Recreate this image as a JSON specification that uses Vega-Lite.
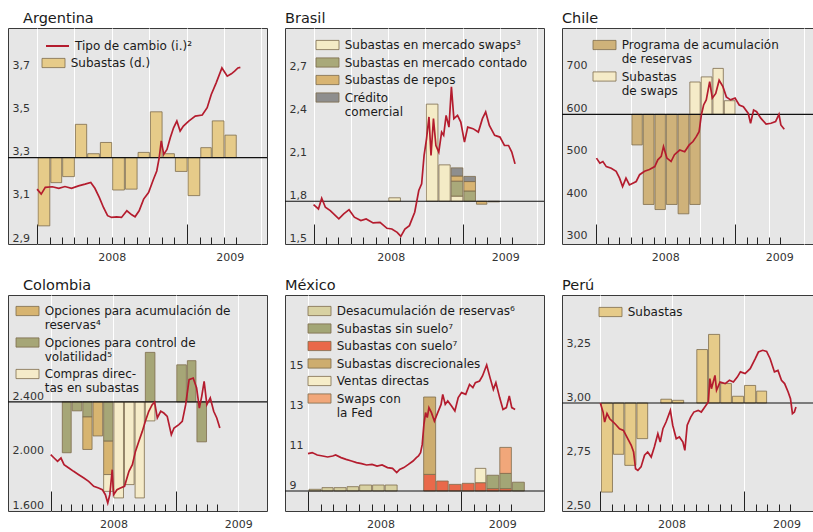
{
  "$schema": "https://vega.github.io/schema/vega-lite/v6.json",
  "background": "white",
  "padding": {"left": 6, "top": 10, "right": 0, "bottom": 0},
  "bounds": "flush",
  "columns": 3,
  "spacing": {"row": 51, "column": 18},
  "resolve": {"scale": {"color": "independent", "stroke": "independent"}, "legend": {"color": "independent", "stroke": "independent"}},
  "concat": [
        {
          "title": {"text": "Argentina", "dx": 15},
          "width": 259, "height": 216,
          "layer": [
            {"layer": [
              {
                "data": {"values": [
                  {"d":"2008-01-15","s":"Subastas (d.)","v":-1.58},
                  {"d":"2008-02-15","s":"Subastas (d.)","v":-0.58},
                  {"d":"2008-03-15","s":"Subastas (d.)","v":-0.44},
                  {"d":"2008-04-15","s":"Subastas (d.)","v":0.77},
                  {"d":"2008-05-15","s":"Subastas (d.)","v":0.09},
                  {"d":"2008-06-15","s":"Subastas (d.)","v":0.35},
                  {"d":"2008-07-15","s":"Subastas (d.)","v":-0.75},
                  {"d":"2008-08-15","s":"Subastas (d.)","v":-0.73},
                  {"d":"2008-09-15","s":"Subastas (d.)","v":0.12},
                  {"d":"2008-10-15","s":"Subastas (d.)","v":1.06},
                  {"d":"2008-11-15","s":"Subastas (d.)","v":0.09},
                  {"d":"2008-12-15","s":"Subastas (d.)","v":-0.32},
                  {"d":"2009-01-15","s":"Subastas (d.)","v":-0.88},
                  {"d":"2009-02-15","s":"Subastas (d.)","v":0.23},
                  {"d":"2009-03-15","s":"Subastas (d.)","v":0.85},
                  {"d":"2009-04-15","s":"Subastas (d.)","v":0.52}
                ]},
                "mark": {"type": "bar"},
                "encoding": {
                  "x": {"field":"d","type":"temporal","timeUnit":"yearmonth",
                        "scale":{"domain":[{"year":2007,"month":10,"date":22},{"year":2009,"month":7,"date":15}]},
                        "axis":{"orient":"bottom","values":[{"year":2008,"month":7,"date":1},{"year":2009,"month":4,"date":15}],"labelExpr":"timeFormat(datum.value, '%Y')","ticks":false,"grid":false,"labelPadding":7,"title":null}},
                  "y": {"field":"v","type":"quantitative","scale":{"domain":[-2,3],"nice":false,"zero":false},
                        "axis":{"orient":"right","values":[-2,-1,0,1,2],"format":"d","title":null}},
                  "color": {"field":"s","type":"nominal","scale":{"domain":["Subastas (d.)"],"range":["#e6cb89"]},
                            "legend":{"title":null,"legendX":39,"legendY":28.5}}
                }
              },
              {"data":{"values":[{}]},"mark":{"type":"rule","color":"#111","strokeWidth":1.2},
               "encoding":{"y":{"datum":0,"axis":null}}}
            ]},
            {
              "data": {"values": [
                {"d":"2008-01-01","r":3.154},{"d":"2008-01-11","r":3.131},{"d":"2008-01-21","r":3.162},{"d":"2008-02-07","r":3.165},
                {"d":"2008-02-23","r":3.158},{"d":"2008-03-09","r":3.166},{"d":"2008-03-25","r":3.158},{"d":"2008-04-11","r":3.169},
                {"d":"2008-04-27","r":3.177},{"d":"2008-05-11","r":3.185},{"d":"2008-05-21","r":3.158},{"d":"2008-06-01","r":3.115},
                {"d":"2008-06-11","r":3.069},{"d":"2008-06-21","r":3.031},{"d":"2008-07-01","r":3.023},{"d":"2008-07-13","r":3.026},
                {"d":"2008-07-25","r":3.023},{"d":"2008-08-07","r":3.054},{"d":"2008-08-19","r":3.035},{"d":"2008-08-27","r":3.026},
                {"d":"2008-09-06","r":3.054},{"d":"2008-09-17","r":3.108},{"d":"2008-09-29","r":3.138},{"d":"2008-10-11","r":3.2},
                {"d":"2008-10-19","r":3.238},{"d":"2008-10-25","r":3.3},{"d":"2008-10-30","r":3.377},{"d":"2008-11-05","r":3.315},
                {"d":"2008-11-13","r":3.338},{"d":"2008-11-21","r":3.392},{"d":"2008-11-29","r":3.438},{"d":"2008-12-07","r":3.469},
                {"d":"2008-12-15","r":3.423},{"d":"2008-12-23","r":3.446},{"d":"2009-01-05","r":3.469},{"d":"2009-01-21","r":3.492},
                {"d":"2009-02-07","r":3.497},{"d":"2009-02-19","r":3.531},{"d":"2009-03-01","r":3.592},{"d":"2009-03-13","r":3.646},
                {"d":"2009-03-27","r":3.715},{"d":"2009-04-09","r":3.677},{"d":"2009-04-19","r":3.688},{"d":"2009-04-27","r":3.7},
                {"d":"2009-05-05","r":3.715},{"d":"2009-05-11","r":3.718}
              ]},
              "mark": {"type":"line","strokeWidth":1.7},
              "encoding": {
                "x": {"field":"d","type":"temporal","axis":{"orient":"bottom","tickCount":{"interval":"month","step":1},"labels":false,"title":null,"grid":true,"tickColor":"#222",
                      "tickSize":{"condition":{"test":"month(datum.value)==0","value":-20},"value":-7},
                      "tickOpacity":{"condition":{"test":"datum.value < datetime(2008,0,1) || datum.value > datetime(2009,4,15)","value":0},"value":1},
                      "gridOpacity":{"condition":{"test":"month(datum.value)%3==0 && datum.value >= datetime(2008,0,1)","value":1},"value":0}}},
                "y": {"field":"r","type":"quantitative","scale":{"domain":[2.9,3.9],"nice":false,"zero":false},
                      "axis":{"orient":"left","values":[2.9,3.1,3.3,3.5,3.7],"labelExpr":"replace(format(datum.value,'.1f'),'.',',')","title":null}},
                "stroke": {"datum":"Tipo de cambio (i.)²","type":"nominal","scale":{"range":["#b41c2e"]},
                           "legend":{"title":null,"legendX":37,"legendY":5.5,"symbolType":"stroke","symbolSize":529,"symbolStrokeWidth":2,"labelOffset":5}}
              }
            }
          ],
          "resolve": {"scale":{"y":"independent"},"axis":{"x":"independent"}}
        },
        {
          "title": {"text": "Brasil"},
          "width": 259, "height": 216,
          "layer": [
            {"layer": [
              {
                "data": {"values": [
                  {"d":"2008-07-15","s":"Subastas en mercado swaps³","v":0.8,"k":1},
                  {"d":"2008-10-15","s":"Subastas en mercado swaps³","v":22.7,"k":1},
                  {"d":"2008-11-15","s":"Subastas en mercado swaps³","v":8.5,"k":1},
                  {"d":"2008-12-15","s":"Subastas en mercado swaps³","v":1.2,"k":1},
                  {"d":"2008-12-15","s":"Subastas en mercado contado","v":3.5,"k":2},
                  {"d":"2008-12-15","s":"Subastas de repos","v":1.2,"k":3},
                  {"d":"2008-12-15","s":"Crédito comercial","v":1.9,"k":4},
                  {"d":"2009-01-15","s":"Subastas en mercado contado","v":2.4,"k":2},
                  {"d":"2009-01-15","s":"Subastas de repos","v":2.2,"k":3},
                  {"d":"2009-01-15","s":"Crédito comercial","v":1.2,"k":4},
                  {"d":"2009-02-15","s":"Subastas de repos","v":-0.7,"k":3},
                  {"d":"2009-03-15","s":"Crédito comercial","v":-0.15,"k":4}
                ]},
                "mark": {"type": "bar"},
                "encoding": {
                  "x": {"field":"d","type":"temporal","timeUnit":"yearmonth",
                        "scale":{"domain":[{"year":2007,"month":10,"date":23},{"year":2009,"month":7,"date":19}]},
                        "axis":{"orient":"bottom","values":[{"year":2008,"month":7,"date":8},{"year":2009,"month":4,"date":15}],"labelExpr":"timeFormat(datum.value, '%Y')","ticks":false,"grid":false,"labelPadding":7,"title":null}},
                  "y": {"field":"v","type":"quantitative","scale":{"domain":[-10,40.5],"nice":false,"zero":false},
                        "axis":{"orient":"right","values":[-10,0,10,20,30],"format":"d","title":null}},
                  "color": {"field":"s","type":"nominal","scale":{"domain":["Subastas en mercado swaps³","Subastas en mercado contado","Subastas de repos","Crédito comercial"],"range":["#f4ebc6","#a9a97a","#d8b472","#8e8e8e"]},
                            "legend":{"title":null,"legendX":36,"legendY":10.5,"labelExpr":"datum.label == 'Crédito comercial' ? ['Crédito','comercial'] : datum.label"}},
                  "order": {"field":"k"}
                }
              },
              {"data":{"values":[{}]},"mark":{"type":"rule","color":"#111","strokeWidth":1.2},
               "encoding":{"y":{"datum":0,"axis":null}}}
            ]},
            {
              "data": {"values": [
                {"d":"2008-01-01","r":1.777},{"d":"2008-01-13","r":1.746},{"d":"2008-01-21","r":1.821},{"d":"2008-01-30","r":1.758},
                {"d":"2008-02-11","r":1.734},{"d":"2008-03-03","r":1.676},{"d":"2008-03-15","r":1.711},{"d":"2008-03-28","r":1.741},
                {"d":"2008-04-10","r":1.688},{"d":"2008-04-26","r":1.664},{"d":"2008-05-09","r":1.676},{"d":"2008-05-26","r":1.648},
                {"d":"2008-06-12","r":1.652},{"d":"2008-06-29","r":1.61},{"d":"2008-07-11","r":1.605},{"d":"2008-07-24","r":1.582},
                {"d":"2008-08-02","r":1.554},{"d":"2008-08-12","r":1.605},{"d":"2008-08-23","r":1.629},{"d":"2008-09-05","r":1.723},
                {"d":"2008-09-15","r":1.875},{"d":"2008-09-22","r":1.922},{"d":"2008-09-28","r":2.121},{"d":"2008-10-04","r":2.238},
                {"d":"2008-10-10","r":2.391},{"d":"2008-10-15","r":2.121},{"d":"2008-10-21","r":2.379},{"d":"2008-10-27","r":2.191},
                {"d":"2008-11-03","r":2.145},{"d":"2008-11-10","r":2.285},{"d":"2008-11-15","r":2.262},{"d":"2008-11-21","r":2.402},
                {"d":"2008-11-28","r":2.32},{"d":"2008-12-04","r":2.602},{"d":"2008-12-10","r":2.379},{"d":"2008-12-19","r":2.402},
                {"d":"2008-12-27","r":2.355},{"d":"2009-01-05","r":2.215},{"d":"2009-01-13","r":2.32},{"d":"2009-01-26","r":2.309},
                {"d":"2009-02-08","r":2.285},{"d":"2009-02-18","r":2.379},{"d":"2009-02-26","r":2.426},{"d":"2009-03-07","r":2.332},
                {"d":"2009-03-20","r":2.262},{"d":"2009-04-02","r":2.25},{"d":"2009-04-13","r":2.191},{"d":"2009-04-23","r":2.191},
                {"d":"2009-05-01","r":2.145},{"d":"2009-05-09","r":2.062}
              ]},
              "mark": {"type":"line","strokeWidth":1.7,"color":"#b41c2e"},
              "encoding": {
                "x": {"field":"d","type":"temporal","axis":{"orient":"bottom","tickCount":{"interval":"month","step":1},"labels":false,"title":null,"grid":true,"tickColor":"#222",
                      "tickSize":{"condition":{"test":"month(datum.value)==0","value":-20},"value":-7},
                      "tickOpacity":{"condition":{"test":"datum.value < datetime(2008,0,1) || datum.value > datetime(2009,4,15)","value":0},"value":1},
                      "gridOpacity":{"condition":{"test":"month(datum.value)%3==0 && datum.value >= datetime(2008,0,1)","value":1},"value":0}}},
                "y": {"field":"r","type":"quantitative","scale":{"domain":[1.5,3.015],"nice":false,"zero":false},
                      "axis":{"orient":"left","values":[1.5,1.8,2.1,2.4,2.7],"labelExpr":"replace(format(datum.value,'.1f'),'.',',')","title":null}}
              }
            }
          ],
          "resolve": {"scale":{"y":"independent"},"axis":{"x":"independent"}}
        },
        {
          "title": {"text": "Chile"},
          "width": 259, "height": 216,
          "layer": [
            {"layer": [
              {
                "data": {"values": [
                  {"d":"2008-04-15","s":"Programa de acumulación de reservas","v":-0.36,"k":1},
                  {"d":"2008-05-15","s":"Programa de acumulación de reservas","v":-1.06,"k":1},
                  {"d":"2008-06-15","s":"Programa de acumulación de reservas","v":-1.12,"k":1},
                  {"d":"2008-07-15","s":"Programa de acumulación de reservas","v":-1.06,"k":1},
                  {"d":"2008-08-15","s":"Programa de acumulación de reservas","v":-1.17,"k":1},
                  {"d":"2008-09-15","s":"Programa de acumulación de reservas","v":-1.06,"k":1},
                  {"d":"2008-09-15","s":"Subastas de swaps","v":0.38,"k":2},
                  {"d":"2008-10-15","s":"Subastas de swaps","v":0.44,"k":2},
                  {"d":"2008-11-15","s":"Subastas de swaps","v":0.54,"k":2},
                  {"d":"2008-12-15","s":"Subastas de swaps","v":0.16,"k":2}
                ]},
                "mark": {"type": "bar"},
                "encoding": {
                  "x": {"field":"d","type":"temporal","timeUnit":"yearmonth",
                        "scale":{"domain":[{"year":2007,"month":10,"date":2},{"year":2009,"month":8,"date":16}]},
                        "axis":{"orient":"bottom","values":[{"year":2008,"month":7,"date":1},{"year":2009,"month":4,"date":28}],"labelExpr":"timeFormat(datum.value, '%Y')","ticks":false,"grid":false,"labelPadding":7,"title":null}},
                  "y": {"field":"v","type":"quantitative","scale":{"domain":[-1.525,1.015],"nice":false,"zero":false},
                        "axis":{"orient":"right","values":[-1.5,-1,-0.5,0,0.5],"labelExpr":"replace(format(datum.value,'.1f'),'.',',')","title":null}},
                  "color": {"field":"s","type":"nominal","scale":{"domain":["Programa de acumulación de reservas","Subastas de swaps"],"range":["#cfb27a","#f5ebc8"]},
                            "legend":{"title":null,"legendX":36,"legendY":10.5,"labelExpr":"datum.label == 'Subastas de swaps' ? ['Subastas','de swaps'] : ['Programa de acumulación','de reservas']"}},
                  "order": {"field":"k"}
                }
              },
              {"data":{"values":[{}]},"mark":{"type":"rule","color":"#111","strokeWidth":1.2},
               "encoding":{"y":{"datum":0,"axis":null}}}
            ]},
            {
              "data": {"values": [
                {"d":"2008-01-01","r":497},{"d":"2008-01-10","r":485},{"d":"2008-01-18","r":489},{"d":"2008-01-27","r":477},
                {"d":"2008-02-09","r":473},{"d":"2008-02-22","r":466},{"d":"2008-03-02","r":450},{"d":"2008-03-10","r":430},
                {"d":"2008-03-19","r":450},{"d":"2008-03-28","r":434},{"d":"2008-04-06","r":438},{"d":"2008-04-15","r":442},
                {"d":"2008-04-24","r":458},{"d":"2008-05-07","r":466},{"d":"2008-05-20","r":470},{"d":"2008-06-03","r":477},
                {"d":"2008-06-11","r":493},{"d":"2008-06-20","r":501},{"d":"2008-06-26","r":524},{"d":"2008-07-05","r":497},
                {"d":"2008-07-16","r":489},{"d":"2008-07-25","r":505},{"d":"2008-08-08","r":516},{"d":"2008-08-21","r":512},
                {"d":"2008-09-02","r":528},{"d":"2008-09-12","r":536},{"d":"2008-09-21","r":548},{"d":"2008-09-28","r":559},
                {"d":"2008-10-04","r":598},{"d":"2008-10-10","r":622},{"d":"2008-10-17","r":634},{"d":"2008-10-26","r":677},
                {"d":"2008-11-02","r":638},{"d":"2008-11-11","r":649},{"d":"2008-11-20","r":680},{"d":"2008-11-30","r":665},
                {"d":"2008-12-09","r":641},{"d":"2008-12-20","r":634},{"d":"2009-01-01","r":638},{"d":"2009-01-12","r":622},
                {"d":"2009-01-23","r":618},{"d":"2009-02-05","r":602},{"d":"2009-02-11","r":579},{"d":"2009-02-19","r":610},
                {"d":"2009-02-27","r":606},{"d":"2009-03-10","r":591},{"d":"2009-03-24","r":577},{"d":"2009-04-06","r":579},
                {"d":"2009-04-18","r":583},{"d":"2009-04-27","r":600},{"d":"2009-05-02","r":575},{"d":"2009-05-11","r":565}
              ]},
              "mark": {"type":"line","strokeWidth":1.7,"color":"#b41c2e"},
              "encoding": {
                "x": {"field":"d","type":"temporal","axis":{"orient":"bottom","tickCount":{"interval":"month","step":1},"labels":false,"title":null,"grid":true,"tickColor":"#222",
                      "tickSize":{"condition":{"test":"month(datum.value)==0","value":-20},"value":-7},
                      "tickOpacity":{"condition":{"test":"datum.value < datetime(2008,0,1) || datum.value > datetime(2009,4,15)","value":0},"value":1},
                      "gridOpacity":{"condition":{"test":"month(datum.value)%3==0 && datum.value >= datetime(2008,0,1)","value":1},"value":0}}},
                "y": {"field":"r","type":"quantitative","scale":{"domain":[295,803],"nice":false,"zero":false},
                      "axis":{"orient":"left","values":[300,400,500,600,700],"format":"d","title":null}}
              }
            }
          ],
          "resolve": {"scale":{"y":"independent"},"axis":{"x":"independent"}}
        },
        {
          "title": {"text": "Colombia", "dx": 15},
          "width": 259, "height": 216,
          "layer": [
            {"layer": [
              {
                "data": {"values": [
                  {"d":"2008-02-15","s":"Opciones para control de volatilidad⁵","v":-0.233,"k":1},
                  {"d":"2008-03-15","s":"Opciones para control de volatilidad⁵","v":-0.041,"k":1},
                  {"d":"2008-04-15","s":"Opciones para control de volatilidad⁵","v":-0.069,"k":1},
                  {"d":"2008-04-15","s":"Opciones para acumulación de reservas⁴","v":-0.149,"k":2},
                  {"d":"2008-05-15","s":"Opciones para acumulación de reservas⁴","v":-0.156,"k":2},
                  {"d":"2008-06-15","s":"Opciones para control de volatilidad⁵","v":-0.18,"k":1},
                  {"d":"2008-06-15","s":"Opciones para acumulación de reservas⁴","v":-0.153,"k":2},
                  {"d":"2008-06-15","s":"Compras directas en subastas","v":-0.077,"k":3},
                  {"d":"2008-07-15","s":"Compras directas en subastas","v":-0.44,"k":3},
                  {"d":"2008-08-15","s":"Compras directas en subastas","v":-0.379,"k":3},
                  {"d":"2008-09-15","s":"Compras directas en subastas","v":-0.44,"k":3},
                  {"d":"2008-10-15","s":"Opciones para control de volatilidad⁵","v":0.227,"k":1},
                  {"d":"2008-10-15","s":"Compras directas en subastas","v":-0.087,"k":3},
                  {"d":"2009-01-15","s":"Opciones para control de volatilidad⁵","v":0.17,"k":1},
                  {"d":"2009-02-15","s":"Opciones para control de volatilidad⁵","v":0.189,"k":1},
                  {"d":"2009-03-15","s":"Opciones para control de volatilidad⁵","v":-0.183,"k":1}
                ]},
                "mark": {"type": "bar"},
                "encoding": {
                  "x": {"field":"d","type":"temporal","timeUnit":"yearmonth",
                        "scale":{"domain":[{"year":2007,"month":8,"date":29},{"year":2009,"month":9,"date":25}]},
                        "axis":{"orient":"bottom","values":[{"year":2008,"month":7,"date":3},{"year":2009,"month":7,"date":3}],"labelExpr":"timeFormat(datum.value, '%Y')","ticks":false,"grid":false,"labelPadding":7,"title":null}},
                  "y": {"field":"v","type":"quantitative","scale":{"domain":[-0.5,0.49],"nice":false,"zero":false},
                        "axis":{"orient":"right","values":[-0.5,-0.25,0,0.25],"labelExpr":"replace(format(datum.value,'.2f'),'.',',')","title":null}},
                  "color": {"field":"s","type":"nominal","scale":{"domain":["Opciones para acumulación de reservas⁴","Opciones para control de volatilidad⁵","Compras directas en subastas"],"range":["#d7b470","#a6a677","#f5ebc9"]},
                            "legend":{"title":null,"legendX":13,"legendY":9.5,"labelExpr":"datum.label == 'Compras directas en subastas' ? ['Compras direc-','tas en subastas'] : datum.label == 'Opciones para control de volatilidad⁵' ? ['Opciones para control de','volatilidad⁵'] : ['Opciones para acumulación de','reservas⁴']"}},
                  "order": {"field":"k"}
                }
              },
              {"data":{"values":[{}]},"mark":{"type":"rule","color":"#111","strokeWidth":1.2},
               "encoding":{"y":{"datum":0,"axis":null}}}
            ]},
            {
              "data": {"values": [
                {"d":"2008-01-01","r":2015},{"d":"2008-01-11","r":1990},{"d":"2008-01-21","r":1966},{"d":"2008-01-31","r":1990},
                {"d":"2008-02-09","r":1941},{"d":"2008-02-23","r":1917},{"d":"2008-03-08","r":1892},{"d":"2008-03-23","r":1867},
                {"d":"2008-04-07","r":1843},{"d":"2008-04-21","r":1818},{"d":"2008-05-06","r":1782},{"d":"2008-05-20","r":1769},
                {"d":"2008-05-31","r":1757},{"d":"2008-06-09","r":1720},{"d":"2008-06-16","r":1659},{"d":"2008-06-22","r":1720},
                {"d":"2008-06-29","r":1904},{"d":"2008-07-03","r":1720},{"d":"2008-07-13","r":1757},{"d":"2008-07-23","r":1769},
                {"d":"2008-08-04","r":1782},{"d":"2008-08-17","r":1892},{"d":"2008-08-27","r":1941},{"d":"2008-09-05","r":2039},
                {"d":"2008-09-15","r":2113},{"d":"2008-09-25","r":2186},{"d":"2008-10-04","r":2260},{"d":"2008-10-14","r":2334},
                {"d":"2008-10-24","r":2383},{"d":"2008-10-31","r":2402},{"d":"2008-11-08","r":2285},{"d":"2008-11-18","r":2334},
                {"d":"2008-11-27","r":2321},{"d":"2008-12-07","r":2297},{"d":"2008-12-19","r":2162},{"d":"2008-12-27","r":2211},
                {"d":"2009-01-10","r":2236},{"d":"2009-01-20","r":2260},{"d":"2009-01-30","r":2383},{"d":"2009-02-09","r":2567},
                {"d":"2009-02-21","r":2579},{"d":"2009-03-03","r":2506},{"d":"2009-03-11","r":2358},{"d":"2009-03-18","r":2444},
                {"d":"2009-03-25","r":2555},{"d":"2009-04-02","r":2383},{"d":"2009-04-12","r":2432},{"d":"2009-04-22","r":2334},
                {"d":"2009-05-01","r":2285},{"d":"2009-05-10","r":2211}
              ]},
              "mark": {"type":"line","strokeWidth":1.7,"color":"#b41c2e"},
              "encoding": {
                "x": {"field":"d","type":"temporal","axis":{"orient":"bottom","tickCount":{"interval":"month","step":1},"labels":false,"title":null,"grid":true,"tickColor":"#222",
                      "tickSize":{"condition":{"test":"month(datum.value)==0","value":-20},"value":-7},
                      "tickOpacity":{"condition":{"test":"datum.value < datetime(2008,0,1) || datum.value > datetime(2009,4,15)","value":0},"value":1},
                      "gridOpacity":{"condition":{"test":"month(datum.value)%6==0 && datum.value >= datetime(2008,0,1)","value":1},"value":0}}},
                "y": {"field":"r","type":"quantitative","scale":{"domain":[1600,3190],"nice":false,"zero":false},
                      "axis":{"orient":"left","values":[1600,2000,2400,2800],"labelExpr":"datum.value > 2500 ? '' : replace(format(datum.value,','),',','.')","title":null}}
              }
            }
          ],
          "resolve": {"scale":{"y":"independent"},"axis":{"x":"independent"}}
        },
        {
          "title": {"text": "México"},
          "width": 259, "height": 216,
          "layer": [
            {"layer": [
              {
                "data": {"values": [
                  {"d":"2008-01-15","s":"Desacumulación de reservas⁶","v":0.21,"k":0},
                  {"d":"2008-02-15","s":"Desacumulación de reservas⁶","v":0.42,"k":0},
                  {"d":"2008-03-15","s":"Desacumulación de reservas⁶","v":0.42,"k":0},
                  {"d":"2008-04-15","s":"Desacumulación de reservas⁶","v":0.54,"k":0},
                  {"d":"2008-05-15","s":"Desacumulación de reservas⁶","v":0.75,"k":0},
                  {"d":"2008-06-15","s":"Desacumulación de reservas⁶","v":0.75,"k":0},
                  {"d":"2008-07-15","s":"Desacumulación de reservas⁶","v":0.75,"k":0},
                  {"d":"2008-10-15","s":"Subastas con suelo⁷","v":2.08,"k":1},
                  {"d":"2008-10-15","s":"Subastas discrecionales","v":9.67,"k":3},
                  {"d":"2008-11-15","s":"Subastas con suelo⁷","v":1.25,"k":1},
                  {"d":"2008-12-15","s":"Subastas con suelo⁷","v":0.83,"k":1},
                  {"d":"2009-01-15","s":"Subastas con suelo⁷","v":0.96,"k":1},
                  {"d":"2009-02-15","s":"Subastas con suelo⁷","v":1.04,"k":1},
                  {"d":"2009-02-15","s":"Ventas directas","v":1.79,"k":4},
                  {"d":"2009-03-15","s":"Subastas con suelo⁷","v":0.3,"k":1},
                  {"d":"2009-03-15","s":"Subastas sin suelo⁷","v":1.67,"k":2},
                  {"d":"2009-04-15","s":"Subastas con suelo⁷","v":0.3,"k":1},
                  {"d":"2009-04-15","s":"Subastas sin suelo⁷","v":1.9,"k":2},
                  {"d":"2009-04-15","s":"Swaps con la Fed","v":3.25,"k":5},
                  {"d":"2009-05-15","s":"Subastas sin suelo⁷","v":1.1,"k":2}
                ]},
                "mark": {"type": "bar"},
                "encoding": {
                  "x": {"field":"d","type":"temporal","timeUnit":"yearmonth",
                        "scale":{"domain":[{"year":2007,"month":11,"date":7},{"year":2009,"month":7,"date":18}]},
                        "axis":{"orient":"bottom","values":[{"year":2008,"month":6,"date":22},{"year":2009,"month":4,"date":9}],"labelExpr":"timeFormat(datum.value, '%Y')","ticks":false,"grid":false,"labelPadding":7,"title":null}},
                  "y": {"field":"v","type":"quantitative","scale":{"domain":[-2.5,24.5],"nice":false,"zero":false},
                        "axis":{"orient":"right","values":[0,5,10,15],"format":"d","title":null}},
                  "color": {"field":"s","type":"nominal","scale":{"domain":["Desacumulación de reservas⁶","Subastas sin suelo⁷","Subastas con suelo⁷","Subastas discrecionales","Ventas directas","Swaps con la Fed"],"range":["#d8d1a2","#a3a676","#e9694a","#cdad6f","#f6edc9","#f1a77a"]},
                            "legend":{"title":null,"legendX":28,"legendY":9.5,"labelExpr":"datum.label == 'Swaps con la Fed' ? ['Swaps con','la Fed'] : datum.label"}},
                  "order": {"field":"k"}
                }
              },
              {"data":{"values":[{}]},"mark":{"type":"rule","color":"#111","strokeWidth":1.2},
               "encoding":{"y":{"datum":0,"axis":null}}}
            ]},
            {
              "data": {"values": [
                {"d":"2008-01-01","r":10.87},{"d":"2008-01-11","r":10.92},{"d":"2008-01-23","r":10.8},{"d":"2008-02-05","r":10.75},
                {"d":"2008-02-17","r":10.7},{"d":"2008-02-29","r":10.75},{"d":"2008-03-07","r":10.8},{"d":"2008-03-20","r":10.67},
                {"d":"2008-04-01","r":10.58},{"d":"2008-04-14","r":10.5},{"d":"2008-04-26","r":10.42},{"d":"2008-05-08","r":10.37},
                {"d":"2008-05-20","r":10.3},{"d":"2008-06-02","r":10.33},{"d":"2008-06-14","r":10.25},{"d":"2008-06-26","r":10.3},
                {"d":"2008-07-09","r":10.17},{"d":"2008-07-21","r":10.13},{"d":"2008-07-31","r":9.92},{"d":"2008-08-07","r":10.08},
                {"d":"2008-08-17","r":10.17},{"d":"2008-08-28","r":10.33},{"d":"2008-09-08","r":10.5},{"d":"2008-09-16","r":10.67},
                {"d":"2008-09-21","r":10.75},{"d":"2008-09-26","r":10.92},{"d":"2008-09-30","r":11.33},{"d":"2008-10-04","r":12.33},
                {"d":"2008-10-08","r":12.92},{"d":"2008-10-12","r":12.67},{"d":"2008-10-16","r":13.17},{"d":"2008-10-22","r":12.92},
                {"d":"2008-10-29","r":12.5},{"d":"2008-11-06","r":12.92},{"d":"2008-11-14","r":13.33},{"d":"2008-11-18","r":13.83},
                {"d":"2008-11-24","r":13.33},{"d":"2008-11-30","r":13.5},{"d":"2008-12-09","r":13.25},{"d":"2008-12-17","r":13.0},
                {"d":"2008-12-25","r":13.67},{"d":"2009-01-02","r":13.92},{"d":"2009-01-12","r":13.83},{"d":"2009-01-21","r":14.33},
                {"d":"2009-01-29","r":14.17},{"d":"2009-02-04","r":14.42},{"d":"2009-02-14","r":14.5},{"d":"2009-02-21","r":14.75},
                {"d":"2009-03-03","r":15.3},{"d":"2009-03-11","r":14.67},{"d":"2009-03-19","r":14.08},{"d":"2009-03-25","r":14.42},
                {"d":"2009-04-03","r":13.67},{"d":"2009-04-11","r":13.08},{"d":"2009-04-19","r":13.17},{"d":"2009-04-26","r":13.75},
                {"d":"2009-05-02","r":13.17},{"d":"2009-05-10","r":13.08}
              ]},
              "mark": {"type":"line","strokeWidth":1.7,"color":"#b41c2e"},
              "encoding": {
                "x": {"field":"d","type":"temporal","axis":{"orient":"bottom","tickCount":{"interval":"month","step":1},"labels":false,"title":null,"grid":true,"tickColor":"#222",
                      "tickSize":{"condition":{"test":"month(datum.value)==0","value":-20},"value":-7},
                      "tickOpacity":{"condition":{"test":"datum.value < datetime(2008,0,1) || datum.value > datetime(2009,4,15)","value":0},"value":1},
                      "gridOpacity":{"condition":{"test":"month(datum.value)==0 && datum.value >= datetime(2008,0,1)","value":1},"value":0}}},
                "y": {"field":"r","type":"quantitative","scale":{"domain":[8,18.8],"nice":false,"zero":false},
                      "axis":{"orient":"left","values":[9,11,13,15],"format":"d","title":null}}
              }
            }
          ],
          "resolve": {"scale":{"y":"independent"},"axis":{"x":"independent"}}
        },
        {
          "title": {"text": "Perú"},
          "width": 259, "height": 216,
          "layer": [
            {"layer": [
              {
                "data": {"values": [
                  {"d":"2008-01-15","s":"Subastas","v":-3.3},
                  {"d":"2008-02-15","s":"Subastas","v":-1.9},
                  {"d":"2008-03-15","s":"Subastas","v":-2.31},
                  {"d":"2008-04-15","s":"Subastas","v":-1.32},
                  {"d":"2008-06-15","s":"Subastas","v":0.14},
                  {"d":"2008-07-15","s":"Subastas","v":0.1},
                  {"d":"2008-09-15","s":"Subastas","v":1.98},
                  {"d":"2008-10-15","s":"Subastas","v":2.54},
                  {"d":"2008-11-15","s":"Subastas","v":0.72},
                  {"d":"2008-12-15","s":"Subastas","v":0.25},
                  {"d":"2009-01-15","s":"Subastas","v":0.65},
                  {"d":"2009-02-15","s":"Subastas","v":0.44}
                ]},
                "mark": {"type": "bar"},
                "encoding": {
                  "x": {"field":"d","type":"temporal","timeUnit":"yearmonth",
                        "scale":{"domain":[{"year":2007,"month":9,"date":25},{"year":2009,"month":7,"date":18}]},
                        "axis":{"orient":"bottom","values":[{"year":2008,"month":7,"date":1},{"year":2009,"month":4,"date":21}],"labelExpr":"timeFormat(datum.value, '%Y')","ticks":false,"grid":false,"labelPadding":7,"title":null}},
                  "y": {"field":"v","type":"quantitative","scale":{"domain":[-4,4],"nice":false,"zero":false},
                        "axis":{"orient":"right","values":[-4,-2,0,2],"format":"d","title":null}},
                  "color": {"field":"s","type":"nominal","scale":{"domain":["Subastas"],"range":["#e6cb89"]},
                            "legend":{"title":null,"legendX":42,"legendY":10.5}}
                }
              },
              {"data":{"values":[{}]},"mark":{"type":"rule","color":"#111","strokeWidth":1.2},
               "encoding":{"y":{"datum":0,"axis":null}}}
            ]},
            {
              "data": {"values": [
                {"d":"2008-01-01","r":3.0},{"d":"2008-01-08","r":2.958},{"d":"2008-01-12","r":2.912},{"d":"2008-01-18","r":2.951},
                {"d":"2008-01-25","r":2.927},{"d":"2008-02-03","r":2.912},{"d":"2008-02-11","r":2.897},{"d":"2008-02-19","r":2.881},
                {"d":"2008-02-29","r":2.873},{"d":"2008-03-11","r":2.835},{"d":"2008-03-20","r":2.804},{"d":"2008-03-26","r":2.773},
                {"d":"2008-03-31","r":2.696},{"d":"2008-04-06","r":2.688},{"d":"2008-04-14","r":2.704},{"d":"2008-04-23","r":2.758},
                {"d":"2008-05-01","r":2.773},{"d":"2008-05-10","r":2.75},{"d":"2008-05-18","r":2.796},{"d":"2008-05-27","r":2.858},
                {"d":"2008-06-02","r":2.819},{"d":"2008-06-09","r":2.881},{"d":"2008-06-17","r":2.912},{"d":"2008-06-28","r":2.966},
                {"d":"2008-07-04","r":2.897},{"d":"2008-07-13","r":2.835},{"d":"2008-07-21","r":2.843},{"d":"2008-07-30","r":2.819},
                {"d":"2008-08-04","r":2.781},{"d":"2008-08-10","r":2.897},{"d":"2008-08-19","r":2.935},{"d":"2008-08-27","r":2.958},
                {"d":"2008-09-07","r":2.966},{"d":"2008-09-15","r":2.958},{"d":"2008-09-24","r":2.981},{"d":"2008-10-03","r":3.005},
                {"d":"2008-10-07","r":3.113},{"d":"2008-10-11","r":3.066},{"d":"2008-10-20","r":3.128},{"d":"2008-10-24","r":3.059},
                {"d":"2008-11-02","r":3.097},{"d":"2008-11-15","r":3.09},{"d":"2008-11-26","r":3.105},{"d":"2008-12-06","r":3.097},
                {"d":"2008-12-16","r":3.12},{"d":"2008-12-24","r":3.144},{"d":"2009-01-05","r":3.136},{"d":"2009-01-18","r":3.159},
                {"d":"2009-01-31","r":3.205},{"d":"2009-02-08","r":3.236},{"d":"2009-02-19","r":3.244},{"d":"2009-03-01","r":3.239},
                {"d":"2009-03-10","r":3.205},{"d":"2009-03-21","r":3.144},{"d":"2009-03-30","r":3.151},{"d":"2009-04-08","r":3.105},
                {"d":"2009-04-16","r":3.09},{"d":"2009-04-25","r":3.051},{"d":"2009-05-01","r":3.02},{"d":"2009-05-06","r":2.951},
                {"d":"2009-05-11","r":2.958},{"d":"2009-05-15","r":2.981}
              ]},
              "mark": {"type":"line","strokeWidth":1.7,"color":"#b41c2e"},
              "encoding": {
                "x": {"field":"d","type":"temporal","axis":{"orient":"bottom","tickCount":{"interval":"month","step":1},"labels":false,"title":null,"grid":true,"tickColor":"#222",
                      "tickSize":{"condition":{"test":"month(datum.value)==0","value":-20},"value":-7},
                      "tickOpacity":{"condition":{"test":"datum.value < datetime(2008,0,1) || datum.value > datetime(2009,4,15)","value":0},"value":1},
                      "gridOpacity":{"condition":{"test":"month(datum.value)%6==0 && datum.value >= datetime(2008,0,1)","value":1},"value":0}}},
                "y": {"field":"r","type":"quantitative","scale":{"domain":[2.5,3.5],"nice":false,"zero":false},
                      "axis":{"orient":"left","values":[2.5,2.75,3.0,3.25],"labelExpr":"replace(format(datum.value,'.2f'),'.',',')","title":null}}
              }
            }
          ],
          "resolve": {"scale":{"y":"independent"},"axis":{"x":"independent"}}
        }
  ],
  "config": {
    "font": "DejaVu Sans",
    "view": {"fill": "#e6e6e6", "stroke": "#3a3a3a", "strokeWidth": 1},
    "title": {"anchor": "start", "frame": "group", "fontSize": 14.5, "fontWeight": "normal", "color": "#1a1a1a", "offset": 2},
    "axis": {"domain": false, "labelFontSize": 11, "labelColor": "#333", "labelOverlap": false, "labelFlush": false, "gridColor": "#ffffff", "gridWidth": 1},
    "axisLeft": {"labelAlign": "left", "labelPadding": -4, "labelBaseline": "alphabetic", "labelOffset": -3, "ticks": false, "grid": true},
    "axisRight": {"labelAlign": "right", "labelPadding": -4, "labelBaseline": "alphabetic", "labelOffset": -3, "ticks": false, "grid": false},
    "legend": {"orient": "none", "labelFontSize": 12, "labelColor": "#1a1a1a", "labelLimit": 400, "symbolType": "M-2,-0.8L2,-0.8L2,0.8L-2,0.8Z", "symbolSize": 132.25, "symbolStrokeColor": "#7d6c4d", "symbolStrokeWidth": 0.8, "symbolOpacity": 1, "rowPadding": 4.5, "padding": 0, "labelOffset": 10.75},
    "bar": {"stroke": "#7d6c4d", "strokeWidth": 0.8}
  }
}
